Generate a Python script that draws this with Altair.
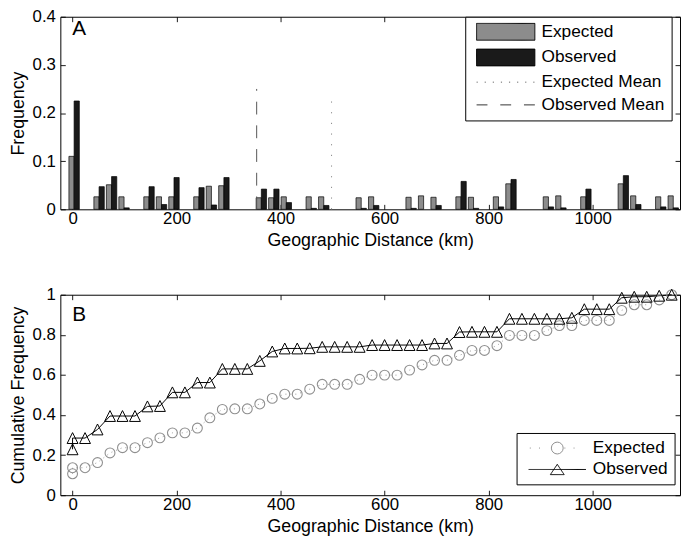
import altair as alt
import pandas as pd

FONT = "Liberation Sans"

# ---------------- Panel A : histogram ----------------
bin_center_km = [3, 27, 51, 75, 99, 123, 147, 171, 195, 219, 243, 267, 291, 315, 339, 363,
                 387, 411, 435, 459, 483, 507, 531, 555, 579, 603, 627, 651, 675, 699, 723,
                 747, 771, 795, 819, 843, 867, 891, 915, 939, 963, 987, 1011, 1035, 1059,
                 1083, 1107, 1131, 1155]
expected_freq = [0.110, 0, 0.026, 0.051, 0.026, 0, 0.026, 0.026, 0.026, 0,
                 0.026, 0.048, 0.049, 0, 0, 0.024, 0.024, 0.026, 0, 0.026,
                 0.026, 0, 0, 0.024, 0.026, 0, 0, 0.025, 0.028, 0.025,
                 0, 0.026, 0.025, 0, 0.026, 0.053, 0, 0, 0.026, 0.028,
                 0, 0.026, 0, 0, 0.053, 0.028, 0, 0.026, 0.028]
observed_freq = [0.225, 0, 0.047, 0.068, 0.003, 0, 0.047, 0.010, 0.066, 0,
                 0.045, 0.009, 0.066, 0, 0, 0.042, 0.042, 0.014, 0, 0.002,
                 0.008, 0, 0, 0.002, 0.008, 0, 0, 0.002, 0, 0.008,
                 0, 0.058, 0.002, 0, 0.005, 0.062, 0, 0, 0.005, 0.003,
                 0, 0.042, 0, 0, 0.070, 0.010, 0, 0.005, 0.003]
mean_series = ["Expected Mean", "Observed Mean"]
mean_km = [498, 354]
mean_line_top = [0.235, 0.25]

# ---------------- Panel B : cumulative ----------------
cum_dist_km = [0, 0, 24, 48, 72, 96, 120, 144, 168, 192, 216, 240, 264, 288, 312, 336, 360,
               384, 408, 432, 456, 480, 504, 528, 552, 576, 600, 624, 648, 672, 696, 720,
               744, 768, 792, 816, 840, 864, 888, 912, 936, 960, 984, 1008, 1032, 1056,
               1080, 1104, 1128, 1152]
expected_cum = [0.107, 0.137, 0.137, 0.163, 0.211, 0.237, 0.237, 0.262, 0.286, 0.311,
                0.311, 0.335, 0.386, 0.428, 0.431, 0.431, 0.455, 0.483, 0.504, 0.504,
                0.529, 0.553, 0.553, 0.553, 0.578, 0.599, 0.599, 0.599, 0.624, 0.650,
                0.673, 0.673, 0.698, 0.722, 0.722, 0.746, 0.797, 0.797, 0.797, 0.821,
                0.846, 0.846, 0.872, 0.872, 0.872, 0.922, 0.950, 0.950, 0.974, 1.000]
observed_cum = [0.229, 0.285, 0.285, 0.328, 0.395, 0.395, 0.395, 0.443, 0.445, 0.513,
                0.513, 0.562, 0.562, 0.630, 0.630, 0.630, 0.670, 0.717, 0.732, 0.732,
                0.733, 0.740, 0.740, 0.740, 0.740, 0.749, 0.749, 0.749, 0.749, 0.749,
                0.757, 0.757, 0.814, 0.815, 0.815, 0.815, 0.880, 0.880, 0.880, 0.880,
                0.880, 0.885, 0.928, 0.928, 0.928, 0.985, 0.990, 0.990, 0.995, 1.000]

x_ticks = [0, 200, 400, 600, 800, 1000]
yA_ticks = [0, 0.1, 0.2, 0.3, 0.4]
yB_ticks = [0, 0.2, 0.4, 0.6, 0.8, 1.0]

legA_domain = ["Expected", "Observed", "Expected Mean", "Observed Mean"]
legB_domain = ["Expected", "Observed"]

n_bins = len(bin_center_km)
bar_df = pd.DataFrame({
    "center": bin_center_km * 2,
    "freq": expected_freq + observed_freq,
    "series": ["Expected"] * n_bins + ["Observed"] * n_bins,
})
means_df = pd.DataFrame({"series": mean_series, "km": mean_km, "top": mean_line_top})
n_cum = len(cum_dist_km)
cum_df = pd.DataFrame({
    "idx": list(range(n_cum)) * 2,
    "km": cum_dist_km * 2,
    "cum": expected_cum + observed_cum,
    "series": ["Expected"] * n_cum + ["Observed"] * n_cum,
})

x_scale = alt.Scale(domain=[-23.5, 1168], nice=False, zero=False)
yA_scale = alt.Scale(domain=[0, 0.4], nice=False)
yB_scale = alt.Scale(domain=[0, 1], nice=False)


def label_x_axis(title):
    return alt.Axis(orient="bottom", values=x_ticks, format="d", ticks=False, tickSize=0,
                    domain=False, grid=False, labelFont=FONT, labelFontSize=17,
                    labelColor="black", labelPadding=1.5, labelFlush=False, labelOverlap=False,
                    title=title, titleFont=FONT, titleFontSize=18, titleFontWeight="normal",
                    titleColor="black", titlePadding=5)


def label_y_axis(title, vals):
    return alt.Axis(orient="left", values=vals, format="~g", ticks=False, tickSize=0,
                    domain=False, grid=False, labelFont=FONT, labelFontSize=17,
                    labelColor="black", labelPadding=5, labelFlush=False, labelOverlap=False,
                    title=title, titleFont=FONT, titleFontSize=18, titleFontWeight="normal",
                    titleColor="black", titlePadding=5)


def tick_axis(orient, vals):
    return alt.Axis(orient=orient, values=vals, labels=False, ticks=True, tickSize=5,
                    tickColor="black", tickWidth=0.9, domain=False, grid=False,
                    title=None, offset=-5)


def make_legend(lx, ly, padding, sym_offset, lab_offset, row_pad):
    return alt.Legend(
        title=None, orient="none", legendX=lx, legendY=ly, direction="vertical",
        padding=padding, symbolSize=4, symbolOffset=sym_offset, labelOffset=lab_offset,
        rowPadding=row_pad, symbolStrokeWidth=1, strokeColor="black", fillColor="white",
        labelFont=FONT, labelFontSize=17.5, labelColor="black",
    )


legA = make_legend(410, 0, 6.5, 25.75, 27.45, 4)
legB = make_legend(462, 140, 6.5, 25.95, 27.25, 2.7)

# scales used by the legend symbols
fillA = alt.Scale(domain=legA_domain, range=["#8c8c8c", "#1a1a1a", "transparent", "transparent"])
strokeA = alt.Scale(domain=legA_domain, range=["#000000", "#000000", "#666666", "#333333"])
shapeA = alt.Scale(domain=legA_domain, range=["M-29.5,-8.5H29.5V8.5H-29.5Z", "M-29.5,-8.5H29.5V8.5H-29.5Z",
                                              "M-29.5,0H29.5", "M-29.5,0H29.5"])
dashA = alt.Scale(domain=legA_domain, range=[[1, 0], [1, 0], [1.2, 7], [11, 13]])

strokeB = alt.Scale(domain=legB_domain, range=["#8f8f8f", "#000000"])
shapeB = alt.Scale(domain=legB_domain, range=["M-29,0H-6A6,6 0 1,1 6,0A6,6 0 1,1 -6,0M6,0H29",
                                              "M-29,0H29M0,-5.2L7,5.2L-7,5.2Z"])
dashB = alt.Scale(domain=legB_domain, range=[[0, 1.2, 1, 8.3, 1, 11.5, 37.7, 10, 1, 8.3, 1, 20], [1, 0]])

# ---------------- Panel A layers ----------------
def bar_layer(series, color, x_axis, y_axis):
    return alt.Chart(bar_df).transform_filter(
        f"datum.series === '{series}' && datum.freq > 0"
    ).transform_calculate(
        x0="datum.series === 'Expected' ? datum.center - 10 : datum.center",
        x1="datum.series === 'Expected' ? datum.center : datum.center + 10",
        base="0",
    ).mark_bar(fill=color, stroke="black", strokeWidth=0.7).encode(
        x=alt.X("x0:Q", scale=x_scale, axis=x_axis),
        x2="x1:Q",
        y=alt.Y("freq:Q", scale=yA_scale, stack=None, axis=y_axis),
        y2="base:Q",
    )


exp_bars = bar_layer("Expected", "#8c8c8c", label_x_axis("Geographic Distance (km)"),
                     label_y_axis("Frequency", yA_ticks))
obs_bars = bar_layer("Observed", "#1a1a1a", None, None)

obs_mean = alt.Chart(means_df).transform_filter("datum.series === 'Observed Mean'").transform_calculate(
    base="0").mark_rule(color="#555555", strokeDash=[13, 11], strokeWidth=1).encode(
    x=alt.X("km:Q", scale=x_scale, axis=tick_axis("bottom", x_ticks)),
    y=alt.Y("base:Q", scale=yA_scale, axis=tick_axis("left", yA_ticks)),
    y2="top:Q",
)

exp_mean = alt.Chart(means_df).transform_filter("datum.series === 'Expected Mean'").transform_calculate(
    base="0").mark_rule(color="#888888", strokeDash=[1.2, 9.6], strokeWidth=1).encode(
    x=alt.X("km:Q", scale=x_scale, axis=tick_axis("top", x_ticks)),
    y=alt.Y("base:Q", scale=yA_scale, axis=tick_axis("right", yA_ticks)),
    y2="top:Q",
)

# legend carrier (has no rows, draws nothing itself)
keyA = alt.Chart(means_df).transform_filter("false").mark_point(opacity=1, filled=True).encode(
    fill=alt.Fill("series:N", scale=fillA, legend=legA),
    stroke=alt.Stroke("series:N", scale=strokeA, legend=legA),
    shape=alt.Shape("series:N", scale=shapeA, legend=legA),
    strokeDash=alt.StrokeDash("series:N", scale=dashA, legend=legA),
)

labA = alt.Chart(pd.DataFrame({"panel": ["A"]})).mark_text(
    align="left", baseline="alphabetic", fontSize=21, font=FONT, color="black"
).encode(x=alt.value(12), y=alt.value(18.5), text="panel:N")

panelA = alt.layer(exp_bars, obs_bars, obs_mean, exp_mean, keyA, labA).resolve_axis(
    x="independent", y="independent").properties(width=627.5, height=195)

# ---------------- Panel B layers ----------------
exp_line = alt.Chart(cum_df).transform_filter("datum.series === 'Expected'").mark_line(
    color="#999999", strokeWidth=1, strokeDash=[1, 4]).encode(
    x=alt.X("km:Q", scale=x_scale, axis=label_x_axis("Geographic Distance (km)")),
    y=alt.Y("cum:Q", scale=yB_scale, axis=label_y_axis("Cumulative Frequency", yB_ticks)),
    order="idx:Q",
)

obs_line = alt.Chart(cum_df).transform_filter("datum.series === 'Observed'").mark_line(
    color="#000000", strokeWidth=1).encode(
    x=alt.X("km:Q", scale=x_scale, axis=None),
    y=alt.Y("cum:Q", scale=yB_scale, axis=None),
    order="idx:Q",
)

circles = alt.Chart(cum_df).transform_filter("datum.series === 'Expected'").mark_point(
    shape="circle", filled=False, size=100, strokeWidth=1.1, opacity=1, color="#8f8f8f").encode(
    x=alt.X("km:Q", scale=x_scale, axis=tick_axis("bottom", x_ticks)),
    y=alt.Y("cum:Q", scale=yB_scale, axis=tick_axis("left", yB_ticks)),
)

triangles = alt.Chart(cum_df).transform_filter("datum.series === 'Observed'").mark_point(
    shape="M0,-1L1,1L-1,1Z", filled=False, size=121, strokeWidth=1, opacity=1,
    color="#000000").encode(
    x=alt.X("km:Q", scale=x_scale, axis=tick_axis("top", x_ticks)),
    y=alt.Y("cum:Q", scale=yB_scale, axis=tick_axis("right", yB_ticks)),
)

keyB = alt.Chart(cum_df).transform_filter("false").mark_point(opacity=1, filled=False).encode(
    stroke=alt.Stroke("series:N", scale=strokeB, legend=legB),
    shape=alt.Shape("series:N", scale=shapeB, legend=legB),
    strokeDash=alt.StrokeDash("series:N", scale=dashB, legend=legB),
)

labB = alt.Chart(pd.DataFrame({"panel": ["B"]})).mark_text(
    align="left", baseline="alphabetic", fontSize=21, font=FONT, color="black"
).encode(x=alt.value(12), y=alt.value(27), text="panel:N")

panelB = alt.layer(exp_line, obs_line, circles, triangles, keyB, labB).resolve_axis(
    x="independent", y="independent").properties(width=627.5, height=203)

chart = alt.vconcat(panelA, panelB, spacing=35.5).resolve_scale(
    fill="independent", stroke="independent", shape="independent", strokeDash="independent"
).properties(padding={"top": -4.5, "left": 0, "right": 0, "bottom": 0}).configure(
    font=FONT).configure_view(stroke="black", strokeWidth=1).configure_axis(grid=False)

chart.save("out.html", embed_options={"renderer": "svg", "actions": False})
